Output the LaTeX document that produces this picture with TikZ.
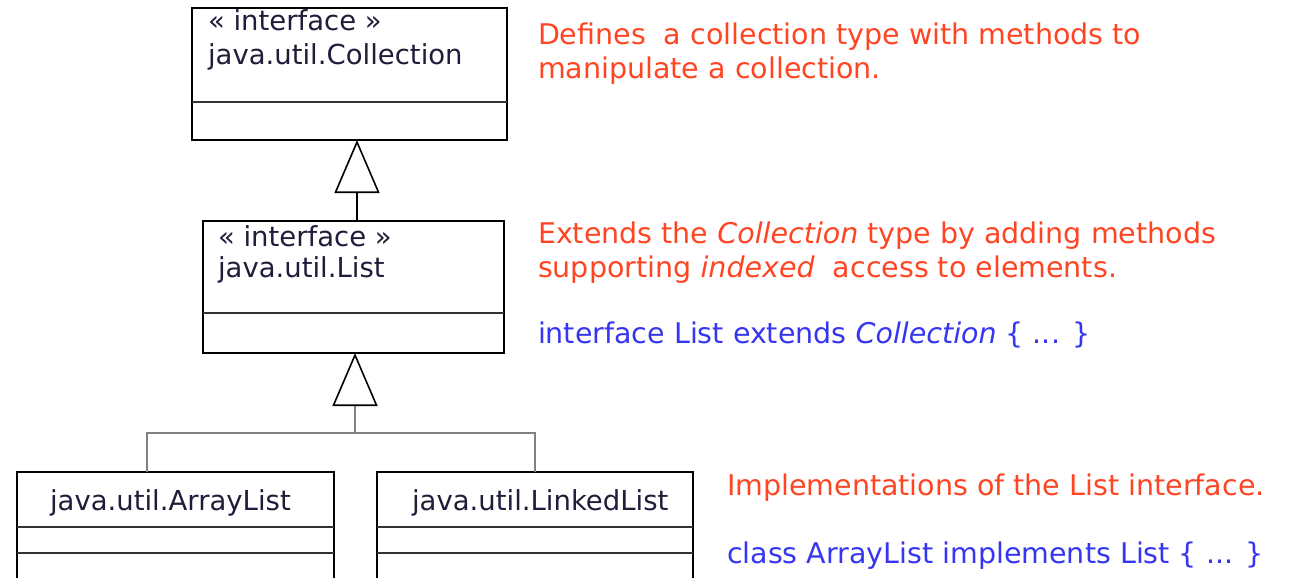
\documentclass[tikz,border=0pt]{standalone}
\usepackage{fontspec}
\setmainfont{DejaVu Sans}
\usetikzlibrary{arrows.meta}
\definecolor{note}{HTML}{FF4422}
\definecolor{code}{HTML}{3535F2}
\definecolor{ink}{HTML}{1E1E3A}
\begin{document}
\begin{tikzpicture}[x=1pt,y=-1pt,
  every node/.style={inner sep=0pt, outer sep=0pt},
  umlbox/.style={draw=black, line width=2pt, rectangle, anchor=north west},
  sep/.style={line width=1.7pt, draw=black!80},
  conn/.style={line width=1.8pt, draw=black!50},
  gen/.style={line width=1.6pt, draw=black,
    -{Triangle[open, length=53pt, width=45pt, line width=1.6pt, color=black]}},
  boxtxt/.style={anchor=base west, text=ink, font=\fontsize{27.5}{33}\selectfont},
  notetxt/.style={anchor=base west, text=note, font=\fontsize{28.5}{34}\selectfont},
  codetxt/.style={anchor=base west, text=code, font=\fontsize{28.5}{34}\selectfont}]
\useasboundingbox (0,0) rectangle (1293,578);
\clip (0,0) rectangle (1293,578);

% class boxes
\node[umlbox, minimum width=315pt, minimum height=132pt] (coll) at (192,8) {};
\node[umlbox, minimum width=301pt, minimum height=132pt] (list) at (203,221) {};
\node[umlbox, minimum width=317pt, minimum height=160pt] (arr) at (17,472) {};
\node[umlbox, minimum width=316pt, minimum height=160pt] (lnk) at (377,472) {};

% compartment separators
\coordinate (s1) at (0,102);
\coordinate (s2) at (0,313);
\coordinate (s3) at (0,527);
\coordinate (s4) at (0,553);
\draw[sep] (coll.west |- s1) -- (coll.east |- s1);
\draw[sep] (list.west |- s2) -- (list.east |- s2);
\draw[sep] (arr.west |- s3) -- (arr.east |- s3);
\draw[sep] (arr.west |- s4) -- (arr.east |- s4);
\draw[sep] (lnk.west |- s3) -- (lnk.east |- s3);
\draw[sep] (lnk.west |- s4) -- (lnk.east |- s4);

% box titles
\node[boxtxt] (collst) at (208,31) {« interface »};
\node[boxtxt] (colln) at (208,65) {java.util.Collection};
\node[boxtxt] (listst) at (218,246) {« interface »};
\node[boxtxt] (listn) at (218,277) {java.util.List};
\node[boxtxt] (arrn) at (50,510) {java.util.ArrayList};
\node[boxtxt] (lnkn) at (412,510) {java.util.LinkedList};

% generalisation List -> Collection
\coordinate (ax1) at (357,0);
\draw[gen] (list.north -| ax1) -- (coll.south -| ax1);

% generalisation ArrayList, LinkedList -> List
\coordinate (ax2) at (355,0);
\coordinate (hub) at (355,433);
\coordinate (dropA) at (147,0);
\draw[conn] (arr.north -| dropA) |- (hub) -| (lnk.north);
\draw[gen, draw=black!50] (hub) -- (list.south -| ax2);

% notes
\node[notetxt] (n1a) at (538,45) {Defines\ \ a collection type with methods to};
\node[notetxt] (n1b) at (538,78) {manipulate a collection.};
\node[notetxt] (n2a) at (538,243) {Extends the \textit{Collection} type by adding methods};
\node[notetxt] (n2b) at (538,277) {supporting \textit{indexed}\ \ access to elements.};
\node[codetxt] (c2) at (538,343) {interface List extends \textit{Collection} \{ ... \}};
\node[notetxt] (n3) at (727,495) {Implementations of the List interface.};
\node[codetxt] (c3) at (727,563) {class ArrayList implements List \{ ... \}};
\end{tikzpicture}
\end{document}
